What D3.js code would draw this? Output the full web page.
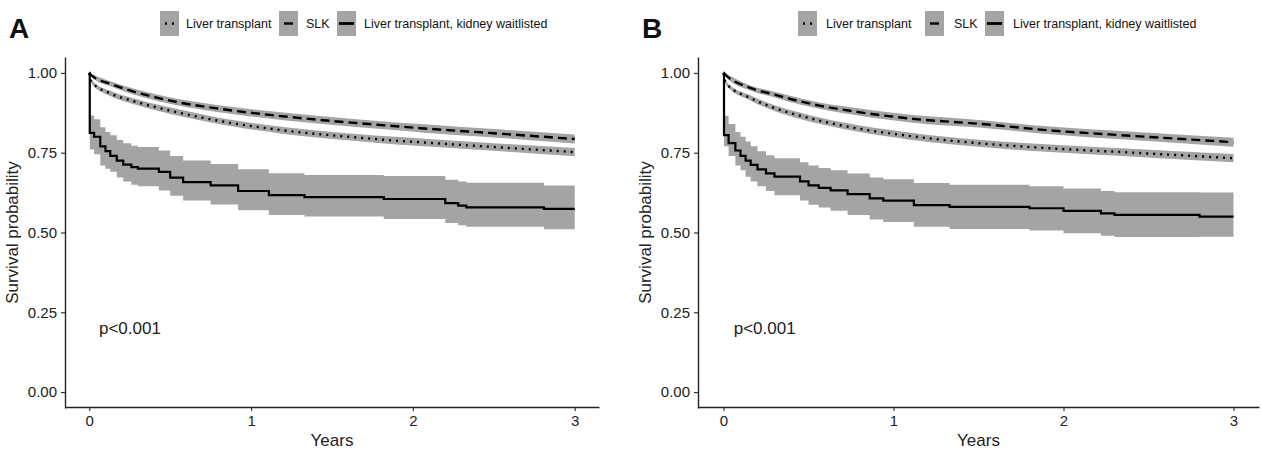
<!DOCTYPE html>
<html>
<head>
<meta charset="UTF-8">
<script src="https://d3js.org/d3.v7.min.js"></script>
<style>
  body { margin: 0; background: #fff; }
  text { font-family: "Liberation Sans", Arial, Helvetica, sans-serif; }
  .axis text { font-size: 15px; fill: #222; }
</style>
</head>
<body>
<svg id="chart" width="1261" height="453"></svg>
<script>
// ---- data ----
var seriesNames = ["Liver transplant", "SLK", "Liver transplant, kidney waitlisted"];
var xTicks = [0, 1, 2, 3];
var yTicks = [0, 0.25, 0.5, 0.75, 1];
var pText = "p<0.001";

// panel A
var aLtTime = [0, 0.005, 0.02, 0.13, 0.27, 0.44, 0.55, 0.8, 1.2, 1.65, 1.92, 2.07, 2.5, 3];
var aLtSurv = [1, 0.984, 0.969, 0.936, 0.912, 0.889, 0.876, 0.85, 0.82, 0.798, 0.787, 0.782, 0.768, 0.752];
var aLtLow  = [1, 0.980, 0.963, 0.928, 0.903, 0.879, 0.866, 0.840, 0.809, 0.787, 0.775, 0.770, 0.756, 0.739];
var aLtHigh = [1, 0.988, 0.975, 0.944, 0.921, 0.899, 0.886, 0.860, 0.831, 0.809, 0.799, 0.794, 0.780, 0.765];

var aSlkTime = [0, 0.02, 0.13, 0.27, 0.44, 0.55, 0.8, 1.2, 1.65, 1.92, 2.07, 2.5, 3];
var aSlkSurv = [1, 0.99, 0.966, 0.942, 0.92, 0.908, 0.888, 0.864, 0.843, 0.832, 0.826, 0.811, 0.793];
var aSlkLow  = [1, 0.984, 0.958, 0.933, 0.910, 0.898, 0.877, 0.852, 0.831, 0.820, 0.813, 0.798, 0.779];
var aSlkHigh = [1, 0.995, 0.974, 0.951, 0.930, 0.918, 0.899, 0.876, 0.855, 0.844, 0.839, 0.824, 0.807];

var aWlTime = [0, 0.003, 0.03, 0.068, 0.1, 0.13, 0.17, 0.21, 0.26, 0.3, 0.43, 0.5, 0.58, 0.75, 0.92, 1.11, 1.33, 1.82, 2.2, 2.28, 2.33, 2.81, 3];
var aWlSurv = [1, 0.8125, 0.8, 0.77, 0.755, 0.74, 0.725, 0.713, 0.705, 0.7, 0.69, 0.672, 0.658, 0.648, 0.63, 0.617, 0.611, 0.605, 0.592, 0.584, 0.579, 0.574, 0.574];
var aWlLow  = [1, 0.76, 0.745, 0.71, 0.70, 0.69, 0.672, 0.66, 0.65, 0.645, 0.632, 0.615, 0.60, 0.588, 0.57, 0.555, 0.55, 0.542, 0.53, 0.523, 0.518, 0.51, 0.51];
var aWlHigh = [1, 0.867, 0.855, 0.83, 0.815, 0.805, 0.79, 0.78, 0.772, 0.768, 0.757, 0.74, 0.726, 0.715, 0.698, 0.686, 0.68, 0.677, 0.665, 0.66, 0.656, 0.647, 0.647];

// panel B
var bLtTime = [0, 0.005, 0.02, 0.157, 0.3, 0.45, 0.57, 0.69, 1.1, 1.52, 1.92, 2.34, 3];
var bLtSurv = [1, 0.984, 0.965, 0.922, 0.89, 0.866, 0.85, 0.836, 0.802, 0.779, 0.764, 0.752, 0.733];
var bLtLow  = [1, 0.980, 0.959, 0.914, 0.881, 0.856, 0.840, 0.826, 0.791, 0.768, 0.752, 0.740, 0.720];
var bLtHigh = [1, 0.988, 0.971, 0.930, 0.899, 0.876, 0.860, 0.846, 0.813, 0.790, 0.776, 0.764, 0.746];

var bSlkTime = [0, 0.02, 0.157, 0.3, 0.45, 0.57, 0.69, 1.1, 1.52, 1.92, 2.34, 3];
var bSlkSurv = [1, 0.99, 0.953, 0.932, 0.911, 0.897, 0.886, 0.857, 0.84, 0.82, 0.805, 0.783];
var bSlkLow  = [1, 0.984, 0.945, 0.923, 0.901, 0.887, 0.875, 0.845, 0.828, 0.808, 0.792, 0.769];
var bSlkHigh = [1, 0.995, 0.961, 0.941, 0.921, 0.907, 0.897, 0.869, 0.852, 0.832, 0.818, 0.797];

var bWlTime = [0, 0.003, 0.03, 0.07, 0.1, 0.13, 0.16, 0.2, 0.25, 0.3, 0.45, 0.5, 0.56, 0.63, 0.73, 0.86, 0.94, 1.12, 1.33, 1.8, 2.0, 2.22, 2.3, 2.8, 3];
var bWlSurv = [1, 0.805, 0.78, 0.757, 0.74, 0.725, 0.712, 0.698, 0.685, 0.675, 0.66, 0.648, 0.64, 0.632, 0.62, 0.607, 0.6, 0.586, 0.58, 0.576, 0.568, 0.56, 0.555, 0.55, 0.55];
var bWlLow  = [1, 0.77, 0.74, 0.71, 0.695, 0.675, 0.66, 0.645, 0.63, 0.617, 0.60, 0.587, 0.578, 0.568, 0.555, 0.541, 0.533, 0.518, 0.511, 0.506, 0.498, 0.49, 0.486, 0.487, 0.487];
var bWlHigh = [1, 0.866, 0.84, 0.815, 0.80, 0.785, 0.77, 0.755, 0.742, 0.733, 0.72, 0.71, 0.702, 0.695, 0.685, 0.672, 0.667, 0.655, 0.65, 0.645, 0.638, 0.63, 0.626, 0.625, 0.625];

// ---- helpers ----
function zipSeries(t, s, lo, hi) {
    return t.map(function(d, i) { return {t: d, s: s[i], lo: lo[i], hi: hi[i]}; });
}

var bandFill = "#a4a4a4";
var styles = [
    {dash: "2,5", width: 2.4, curve: d3.curveMonotoneX},   // liver transplant, dotted
    {dash: "9,5", width: 2.4, curve: d3.curveMonotoneX},   // SLK, dashed
    {dash: null,  width: 2.2, curve: d3.curveStepAfter}    // waitlisted, solid
];

var panels = [
    {label: "A", x0: 65, x1: 599, legendX: 160, legendGap: [186, 279, 306, 337, 364],
     series: [zipSeries(aLtTime, aLtSurv, aLtLow, aLtHigh),
              zipSeries(aSlkTime, aSlkSurv, aSlkLow, aSlkHigh),
              zipSeries(aWlTime, aWlSurv, aWlLow, aWlHigh)]},
    {label: "B", x0: 698, x1: 1259, legendX: 798, legendGap: [826, 925, 954, 985, 1013],
     series: [zipSeries(bLtTime, bLtSurv, bLtLow, bLtHigh),
              zipSeries(bSlkTime, bSlkSurv, bSlkLow, bSlkHigh),
              zipSeries(bWlTime, bWlSurv, bWlLow, bWlHigh)]}
];

var svg = d3.select("#chart");
var yTop = 57, yBot = 408;

panels.forEach(function(p) {
    var x = d3.scaleLinear().domain([-0.15, 3.15]).range([p.x0, p.x1]);
    var y = d3.scaleLinear().domain([-0.05, 1.05]).range([yBot, yTop]);
    var g = svg.append("g");

    // confidence bands
    p.series.forEach(function(data, i) {
        var area = d3.area()
            .x(function(d) { return x(d.t); })
            .y0(function(d) { return y(d.lo); })
            .y1(function(d) { return y(d.hi); })
            .curve(styles[i].curve);
        g.append("path").datum(data)
            .attr("d", area)
            .attr("fill", bandFill);
    });

    // survival curves
    p.series.forEach(function(data, i) {
        var line = d3.line()
            .x(function(d) { return x(d.t); })
            .y(function(d) { return y(d.s); })
            .curve(styles[i].curve);
        g.append("path").datum(data)
            .attr("d", line)
            .attr("fill", "none")
            .attr("stroke", "#000")
            .attr("stroke-width", styles[i].width)
            .attr("stroke-dasharray", styles[i].dash);
    });

    // axes
    var xAxis = d3.axisBottom(x).tickValues(xTicks).tickFormat(d3.format("d")).tickSize(4).tickSizeOuter(0);
    var yAxis = d3.axisLeft(y).tickValues(yTicks).tickFormat(d3.format(".2f")).tickSize(4).tickSizeOuter(0);

    var gx = g.append("g").attr("class", "axis").attr("transform", "translate(0," + (yBot - 1) + ")").call(xAxis);
    var gy = g.append("g").attr("class", "axis").attr("transform", "translate(" + p.x0 + ",0)").call(yAxis);
    [gx, gy].forEach(function(ax) {
        ax.attr("font-size", 15).attr("font-family", null);
        ax.select(".domain").attr("stroke", "#222").attr("stroke-width", 1.4);
        ax.selectAll(".tick line").attr("stroke", "#333").attr("stroke-width", 1.2);
    });
    gx.selectAll(".tick text").attr("dy", "0.8em");
    gy.selectAll(".tick text").attr("dx", "-1px");

    // axis titles
    g.append("text")
        .attr("x", (p.x0 + p.x1) / 2).attr("y", 446)
        .attr("text-anchor", "middle")
        .style("font-size", "17px").attr("fill", "#222")
        .text("Years");
    g.append("text")
        .attr("transform", "translate(" + (p.x0 - 47) + "," + ((yTop + yBot) / 2) + ") rotate(-90)")
        .attr("text-anchor", "middle")
        .style("font-size", "17px").attr("fill", "#222")
        .text("Survival probability");

    // p-value
    g.append("text")
        .attr("x", x(0.06)).attr("y", y(0.2) + 6)
        .style("font-size", "17px").attr("fill", "#222")
        .text(pText);

    // panel letter
    g.append("text")
        .attr("x", p.x0 - 56).attr("y", 38)
        .style("font-size", "28px").style("font-weight", "bold").attr("fill", "#111")
        .text(p.label);

    // legend
    var keyW = 19, keyH = 25, keyY = 11;
    var keyX = [p.legendX, p.legendGap[1], p.legendGap[3]];
    var textX = [p.legendGap[0], p.legendGap[2], p.legendGap[4]];
    seriesNames.forEach(function(name, i) {
        g.append("rect")
            .attr("x", keyX[i]).attr("y", keyY)
            .attr("width", keyW).attr("height", keyH)
            .attr("fill", bandFill);
        g.append("line")
            .attr("x1", keyX[i] + (i == 1 ? 5 : 2))
            .attr("x2", keyX[i] + keyW - (i == 1 ? 5 : 2))
            .attr("y1", keyY + keyH / 2).attr("y2", keyY + keyH / 2)
            .attr("stroke", "#000")
            .attr("stroke-width", styles[i].width + (i == 2 ? 0.6 : 0))
            .attr("stroke-dasharray", i == 0 ? "2,5" : null)
            .attr("stroke-dashoffset", i == 0 ? -3 : 0);
        g.append("text")
            .attr("x", textX[i]).attr("y", keyY + keyH / 2 + 4.5)
            .style("font-size", "12.5px").attr("fill", "#111")
            .text(name);
    });
});
</script>
</body>
</html>
